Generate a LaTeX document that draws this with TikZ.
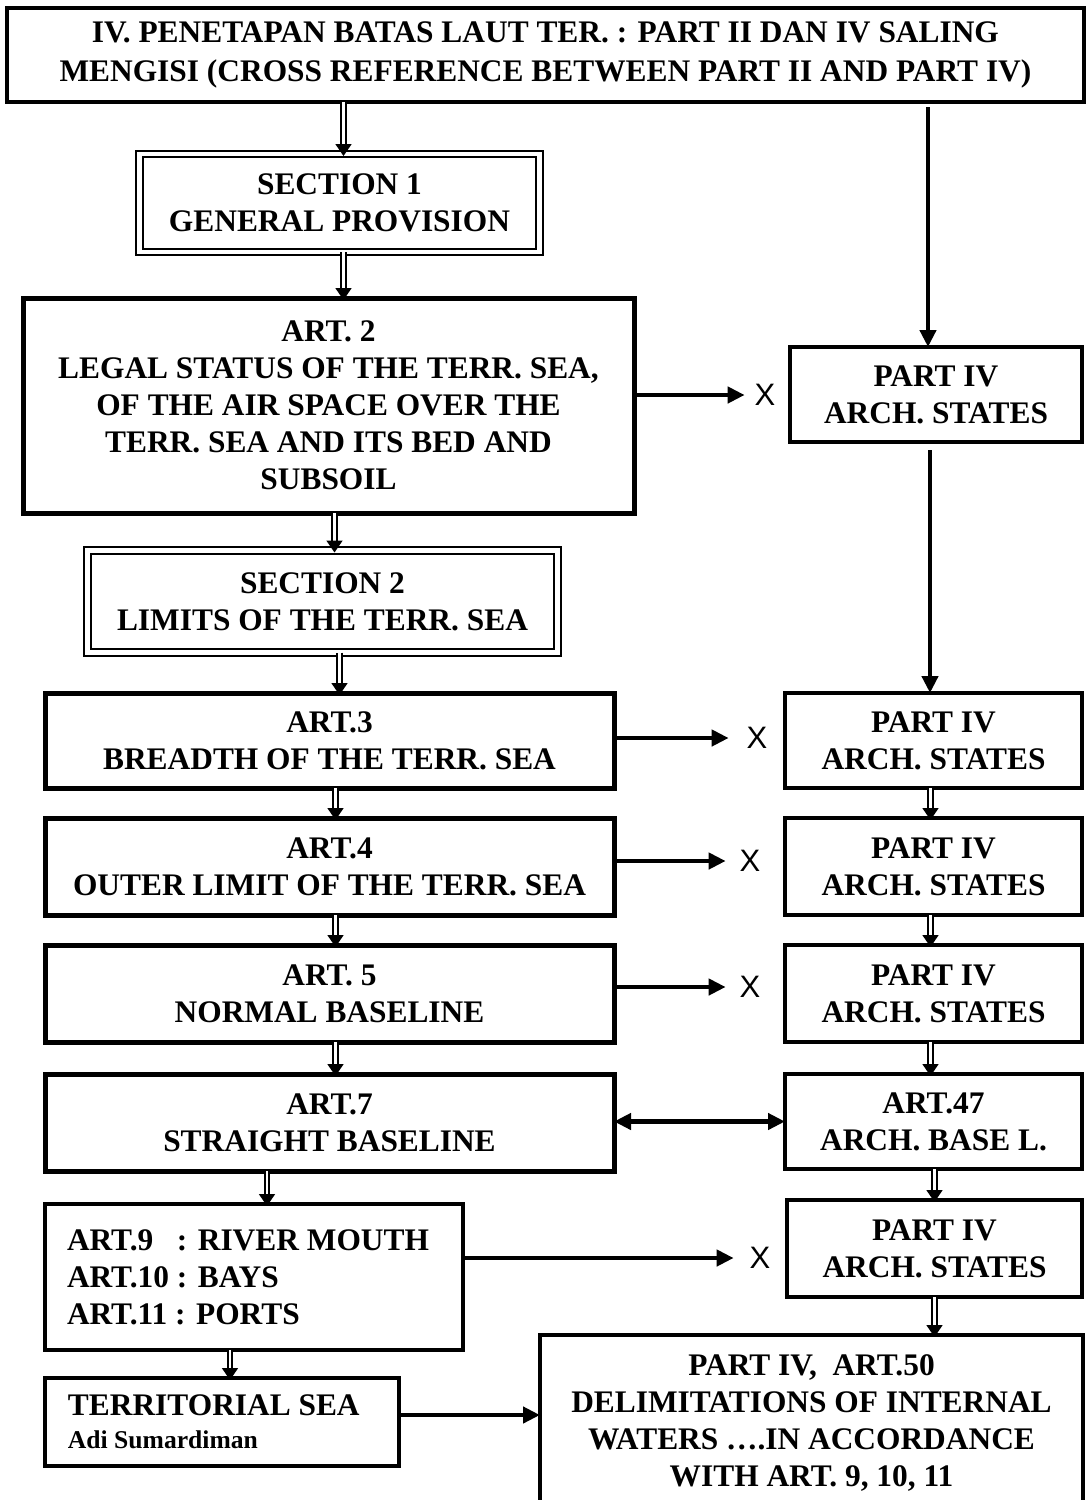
\documentclass[tikz,border=0pt]{standalone}
\usepackage{fontspec}
\setmainfont{Liberation Serif}
\newfontfamily\sansf{Liberation Sans}
\usetikzlibrary{arrows.meta,calc}
\begin{document}
\begin{tikzpicture}[x=0.5pt,y=-0.5pt,
  bx/.style={draw, align=center, inner sep=0pt, outer sep=0pt, font=\bfseries\fontsize{15.7}{18.5}\selectfont},
  thk/.style={bx, line width=2.5pt},
  med/.style={bx, line width=1.8pt},
  dblbx/.style={bx, double, line width=1.1pt, double distance=2.2pt},
  dbl/.style={double, line width=0.9pt, double distance=1.4pt, -{Triangle[length=6pt,width=8pt]}, shorten >=-1pt},
  sarr/.style={line width=2.4pt, -{Triangle[length=8.5pt,width=8pt]}},
  xm/.style={font=\sansf\fontsize{15.5}{18}\selectfont, inner sep=0pt, outer sep=0pt}]
\useasboundingbox (0,0) rectangle (1087,1500);
\fill[white] (0,0) rectangle (1087,1500);

% boxes
\node[bx, line width=2.25pt, minimum width=538.5pt, minimum height=47pt, font=\bfseries\fontsize{15.7}{19.5}\selectfont] (top) at (545.5,55)
  {IV. PENETAPAN BATAS LAUT TER. : PART II DAN IV SALING\\MENGISI (CROSS REFERENCE BETWEEN PART II AND PART IV)};
\node[dblbx, minimum width=200pt, minimum height=49pt] (sec1) at (339.5,203) {SECTION 1\\GENERAL PROVISION};
\node[thk, minimum width=305.5pt, minimum height=107.5pt] (art2) at (328.5,405.5)
  {ART. 2\\LEGAL STATUS OF THE TERR. SEA,\\OF THE AIR SPACE OVER THE\\TERR. SEA AND ITS BED AND\\SUBSOIL};
\node[med, minimum width=146pt, minimum height=47.5pt] (p4a) at (936,394.5) {PART IV\\ARCH. STATES};
\node[dblbx, minimum width=235pt, minimum height=51pt] (sec2) at (322.5,601.5) {SECTION 2\\LIMITS OF THE TERR. SEA};
\node[thk, minimum width=284.5pt, minimum height=47.5pt] (art3) at (329.5,740.5) {ART.3\\BREADTH OF THE TERR. SEA};
\node[med, minimum width=148.5pt, minimum height=47.5pt] (p4b) at (933.5,740.5) {PART IV\\ARCH. STATES};
\node[thk, minimum width=284.5pt, minimum height=48.5pt] (art4) at (329.5,866.5) {ART.4\\OUTER LIMIT OF THE TERR. SEA};
\node[med, minimum width=148.5pt, minimum height=48.5pt] (p4c) at (933.5,866.5) {PART IV\\ARCH. STATES};
\node[thk, minimum width=284.5pt, minimum height=48.5pt] (art5) at (329.5,993.5) {ART. 5\\NORMAL BASELINE};
\node[med, minimum width=148.5pt, minimum height=48.5pt] (p4d) at (933.5,993.5) {PART IV\\ARCH. STATES};
\node[thk, minimum width=284.5pt, minimum height=48.5pt] (art7) at (329.5,1122.5) {ART.7\\STRAIGHT BASELINE};
\node[med, minimum width=148.5pt, minimum height=47.5pt] (art47) at (933.5,1121.5) {ART.47\\ARCH. BASE L.};
\node[med, minimum width=209pt, minimum height=73pt, text width=187pt, inner xsep=11pt, align=flush left] (art9) at (254,1277)
  {\setbox0\hbox{ART.10 }%
   \makebox[\wd0][l]{ART.9}: RIVER MOUTH\\ART.10 : BAYS\\ART.11 : PORTS};
\node[med, minimum width=147.5pt, minimum height=48.5pt] (p4e) at (934.5,1248.5) {PART IV\\ARCH. STATES};
\node[bx, line width=2.25pt, minimum width=177pt, minimum height=44pt, text width=154pt, inner xsep=11.5pt, align=flush left] (terr) at (222,1422)
  {TERRITORIAL SEA\\[-2pt]{\fontsize{12.8}{15}\selectfont Adi Sumardiman}};
\node[bx, line width=2pt, minimum width=271.5pt, minimum height=87.5pt] (art50) at (811.5,1422.5)
  {PART IV,\ \ ART.50\\DELIMITATIONS OF INTERNAL\\WATERS ….IN ACCORDANCE\\WITH ART. 9, 10, 11};

% X marks
\node[xm] (x1) at (765,395) {X};
\node[xm] (x2) at (757,738) {X};
\node[xm] (x3) at (750,861) {X};
\node[xm] (x4) at (750,987) {X};
\node[xm] (x5) at (760,1258) {X};

% left column double arrows
\draw[dbl] ([xshift=2pt]sec1.north |- top.south) -- ([xshift=2pt]sec1.north);
\draw[dbl] ([xshift=2pt]sec1.south) -- ([xshift=2pt]sec1.south |- art2.north);
\draw[dbl] ([xshift=3pt]art2.south) -- ([xshift=3pt]art2.south |- sec2.north);
\draw[dbl] ([xshift=5pt]art3.north |- sec2.south) -- ([xshift=5pt]art3.north);
\draw[dbl] ([xshift=3pt]art3.south) -- ([xshift=3pt]art4.north);
\draw[dbl] ([xshift=3pt]art4.south) -- ([xshift=3pt]art5.north);
\draw[dbl] ([xshift=3pt]art5.south) -- ([xshift=3pt]art7.north);
\draw[dbl] ([xshift=6.5pt]art9.north |- art7.south) -- ([xshift=6.5pt]art9.north);
\draw[dbl] ([xshift=4pt]terr.north |- art9.south) -- ([xshift=4pt]terr.north);

% right column
\draw[sarr] ([yshift=-2.5pt,xshift=-4pt]top.south -| p4a) -- ([xshift=-4pt]p4a.north);
\draw[sarr] ([yshift=-4pt,xshift=-3pt]p4a.south) -- ([xshift=-3pt]p4a.south |- p4b.north);
\draw[dbl] ([xshift=-1.5pt]p4b.south) -- ([xshift=-1.5pt]p4c.north);
\draw[dbl] ([xshift=-1.5pt]p4c.south) -- ([xshift=-1.5pt]p4d.north);
\draw[dbl] ([xshift=-1.5pt]p4d.south) -- ([xshift=-1.5pt]art47.north);
\draw[dbl] (art47.south -| p4e) -- (p4e.north);
\draw[dbl] (p4e.south) -- (p4e.south |- art50.north);

% horizontal arrows
\draw[sarr, shorten >=5pt] (art2.east |- x1) -- (x1.west);
\draw[sarr, shorten >=9pt] (art3.east |- x2) -- (x2.west);
\draw[sarr, shorten >=7pt] (art4.east |- x3) -- (x3.west);
\draw[sarr, shorten >=7pt] (art5.east |- x4) -- (x4.west);
\draw[sarr, shorten >=8pt] (art9.east |- x5) -- (x5.west);
\draw[line width=2.4pt, {Triangle[length=8.5pt,width=8pt]}-{Triangle[length=8.5pt,width=8pt]}] (art7.east |- art47) -- (art47.west);
\draw[sarr] ([yshift=3.5pt]terr.east) -- ([yshift=3.5pt]terr.east -| art50.west);
\end{tikzpicture}
\end{document}
